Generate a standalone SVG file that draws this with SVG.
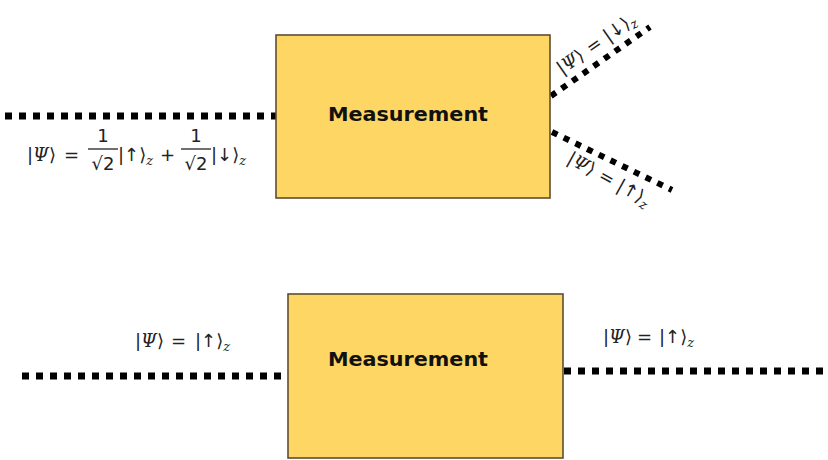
<svg xmlns="http://www.w3.org/2000/svg" width="828" height="460" viewBox="0 0 828 460">
<style>
.box{fill:#FDD663;stroke:#5e4e33;stroke-width:1.6}
.title{font-family:"DejaVu Sans",sans-serif;font-weight:bold;font-size:19px;fill:#111}
.dot{stroke:#000;stroke-width:7;stroke-dasharray:7 7;fill:none}
.dotd{stroke:#000;stroke-width:6;stroke-dasharray:6 7;fill:none}
.m{font-family:"DejaVu Sans","Liberation Sans",sans-serif;font-size:18px;fill:#222}
.i{font-style:italic;font-family:"DejaVu Serif","Liberation Serif",serif}
.s{font-size:13px;font-style:italic;font-family:"DejaVu Serif","Liberation Serif",serif}
.bar{stroke:#222;stroke-width:1.3}
</style>
<rect width="828" height="460" fill="#fff"/>
<g id="connectors">
<line class="dot" x1="5" y1="116" x2="276" y2="116"/>
<line class="dotd" x1="551" y1="96" x2="650" y2="27"/>
<line class="dotd" x1="552" y1="132" x2="672" y2="190"/>
<line class="dot" x1="22" y1="376" x2="288" y2="376"/>
<line class="dot" x1="564" y1="371" x2="828" y2="371"/>
</g>
<g id="measure1">
<rect class="box" x="276" y="35" width="274" height="163"/>
<text class="title" x="408" y="121" text-anchor="middle" textLength="160" lengthAdjust="spacingAndGlyphs">Measurement</text>
</g>
<g id="measure2">
<rect class="box" x="288" y="294" width="275" height="164"/>
<text class="title" x="408" y="366" text-anchor="middle" textLength="160" lengthAdjust="spacingAndGlyphs">Measurement</text>
</g>
<g id="label-superposition" class="m">
<text x="27" y="161">|<tspan class="i">Ψ</tspan>⟩ <tspan x="64">=</tspan></text>
<text x="103" y="142" text-anchor="middle">1</text>
<line class="bar" x1="88" y1="149" x2="118" y2="149"/>
<text x="103" y="170" text-anchor="middle">√2</text>
<text x="118" y="161">|↑⟩<tspan class="s" dy="4">z</tspan></text>
<text x="160" y="161">+</text>
<text x="196" y="142" text-anchor="middle">1</text>
<line class="bar" x1="181" y1="149" x2="211" y2="149"/>
<text x="196" y="170" text-anchor="middle">√2</text>
<text x="211" y="161">|↓⟩<tspan class="s" dy="4">z</tspan></text>
</g>
<g id="label-down" class="m">
<text transform="translate(562,75) rotate(-35)">|<tspan class="i">Ψ</tspan>⟩ <tspan dx="1">=</tspan><tspan dx="6">|↓⟩</tspan><tspan class="s" dy="4">z</tspan></text>
</g>
<g id="label-up-diag" class="m">
<text transform="translate(566,162) rotate(29)">|<tspan class="i">Ψ</tspan>⟩ <tspan dx="1">=</tspan><tspan dx="6">|↑⟩</tspan><tspan class="s" dy="4">z</tspan></text>
</g>
<g id="label-up-left" class="m">
<text x="135" y="347">|<tspan class="i">Ψ</tspan>⟩ <tspan x="171">=</tspan><tspan x="195">|↑⟩</tspan><tspan class="s" dy="4">z</tspan></text>
</g>
<g id="label-up-right" class="m">
<text x="603" y="343">|<tspan class="i">Ψ</tspan>⟩ <tspan x="637">=</tspan><tspan x="659">|↑⟩</tspan><tspan class="s" dy="4">z</tspan></text>
</g>
</svg>
